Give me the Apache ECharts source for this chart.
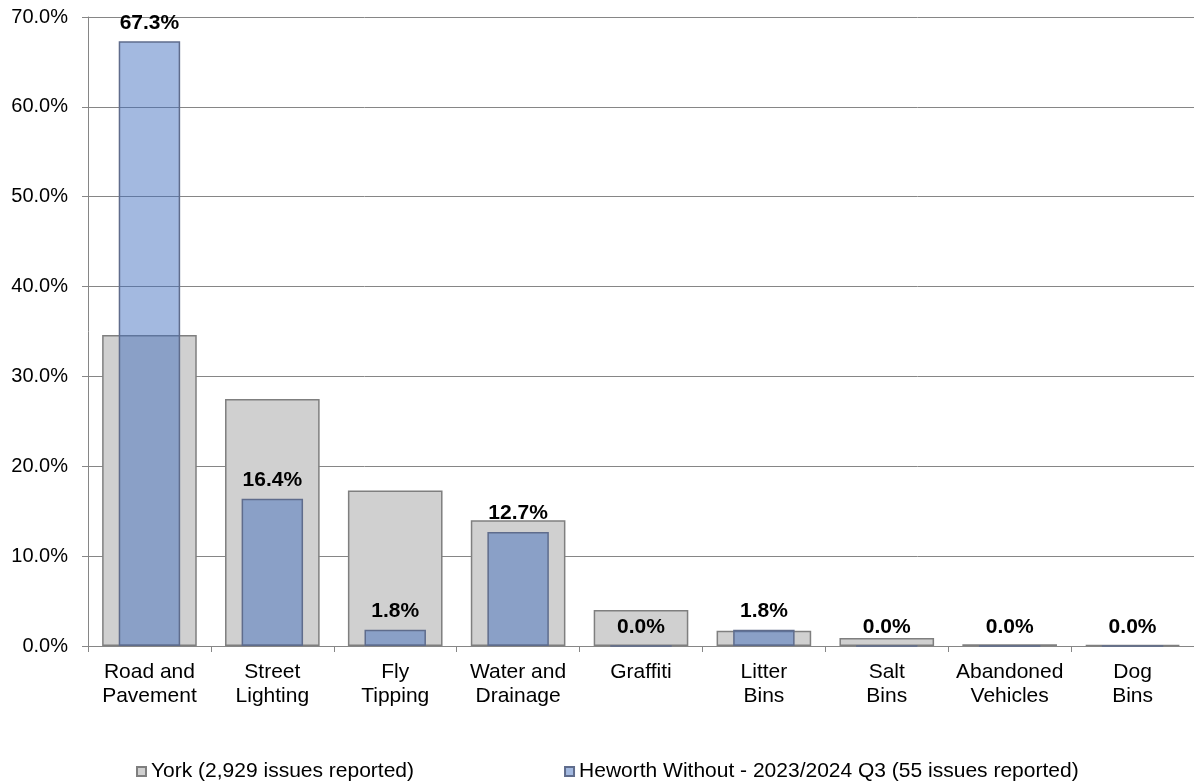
<!DOCTYPE html>
<html>
<head>
<meta charset="utf-8">
<script src="https://cdn.jsdelivr.net/npm/echarts@6/dist/echarts.min.js"></script>
<style>
html,body{margin:0;padding:0;background:#fff;}
#chart{width:1194px;height:783px;}
</style>
</head>
<body>
<div id="chart"></div>
<script>
var categories = ['Road and\nPavement','Street\nLighting','Fly\nTipping','Water and\nDrainage','Graffiti','Litter\nBins','Salt\nBins','Abandoned\nVehicles','Dog\nBins'];
var yorkValues = [34.6, 27.5, 17.3, 14.0, 4.0, 1.7, 0.9, 0.2, 0.1];
var heworthValues = [67.3, 16.4, 1.8, 12.7, 0.0, 1.8, 0.0, 0.0, 0.0];
var seriesNames = ['York (2,929 issues reported)', 'Heworth Without - 2023/2024 Q3 (55 issues reported)'];
var yTicks = {min: 0, max: 70, interval: 10};

var FONT = "'Liberation Sans', Arial, sans-serif";
var chart = echarts.init(document.getElementById('chart'), null, {renderer: 'canvas'});
chart.setOption({
  animation: false,
  backgroundColor: '#ffffff',
  textStyle: {fontFamily: FONT},
  grid: {left: 88, right: 0, top: 17, bottom: 137},
  legend: {
    left: 131, top: 756,
    itemWidth: 9, itemHeight: 9, itemGap: 150,
    icon: 'rect',
    textStyle: {fontFamily: FONT, fontSize: 21, color: '#000'},
    data: seriesNames
  },
  xAxis: [{
    type: 'category',
    data: categories,
    axisLine: {lineStyle: {color: '#868686', width: 1}},
    axisTick: {show: true, length: 6, lineStyle: {color: '#868686'}},
    axisLabel: {interval: 0, fontFamily: FONT, fontSize: 21, color: '#000', lineHeight: 24, margin: 14}
  }, {
    type: 'category',
    data: categories,
    show: false
  }],
  yAxis: {
    type: 'value',
    min: yTicks.min, max: yTicks.max, interval: yTicks.interval,
    axisLine: {show: true, lineStyle: {color: '#868686', width: 1}},
    axisTick: {show: true, length: 6, lineStyle: {color: '#868686'}},
    splitLine: {show: true, lineStyle: {color: '#868686', width: 1}},
    axisLabel: {fontFamily: FONT, fontSize: 20, color: '#000', margin: 20,
      formatter: function (v) { return v.toFixed(1) + '%'; }}
  },
  series: [{
    name: seriesNames[0],
    type: 'bar',
    xAxisIndex: 0,
    data: yorkValues,
    barWidth: '77%',
    itemStyle: {color: '#d0d0d0', borderColor: '#7f7f7f', borderWidth: 1.5}
  }, {
    name: seriesNames[1],
    type: 'bar',
    xAxisIndex: 1,
    data: heworthValues,
    barWidth: '50%',
    itemStyle: {color: 'rgba(60,106,189,0.47)', borderColor: '#5f6c8c', borderWidth: 1.5},
    label: {
      show: true, position: 'top', distance: 8,
      fontFamily: FONT, fontSize: 21, fontWeight: 'bold', color: '#000',
      formatter: function (p) { return p.value.toFixed(1) + '%'; }
    }
  }]
});
</script>
</body>
</html>
